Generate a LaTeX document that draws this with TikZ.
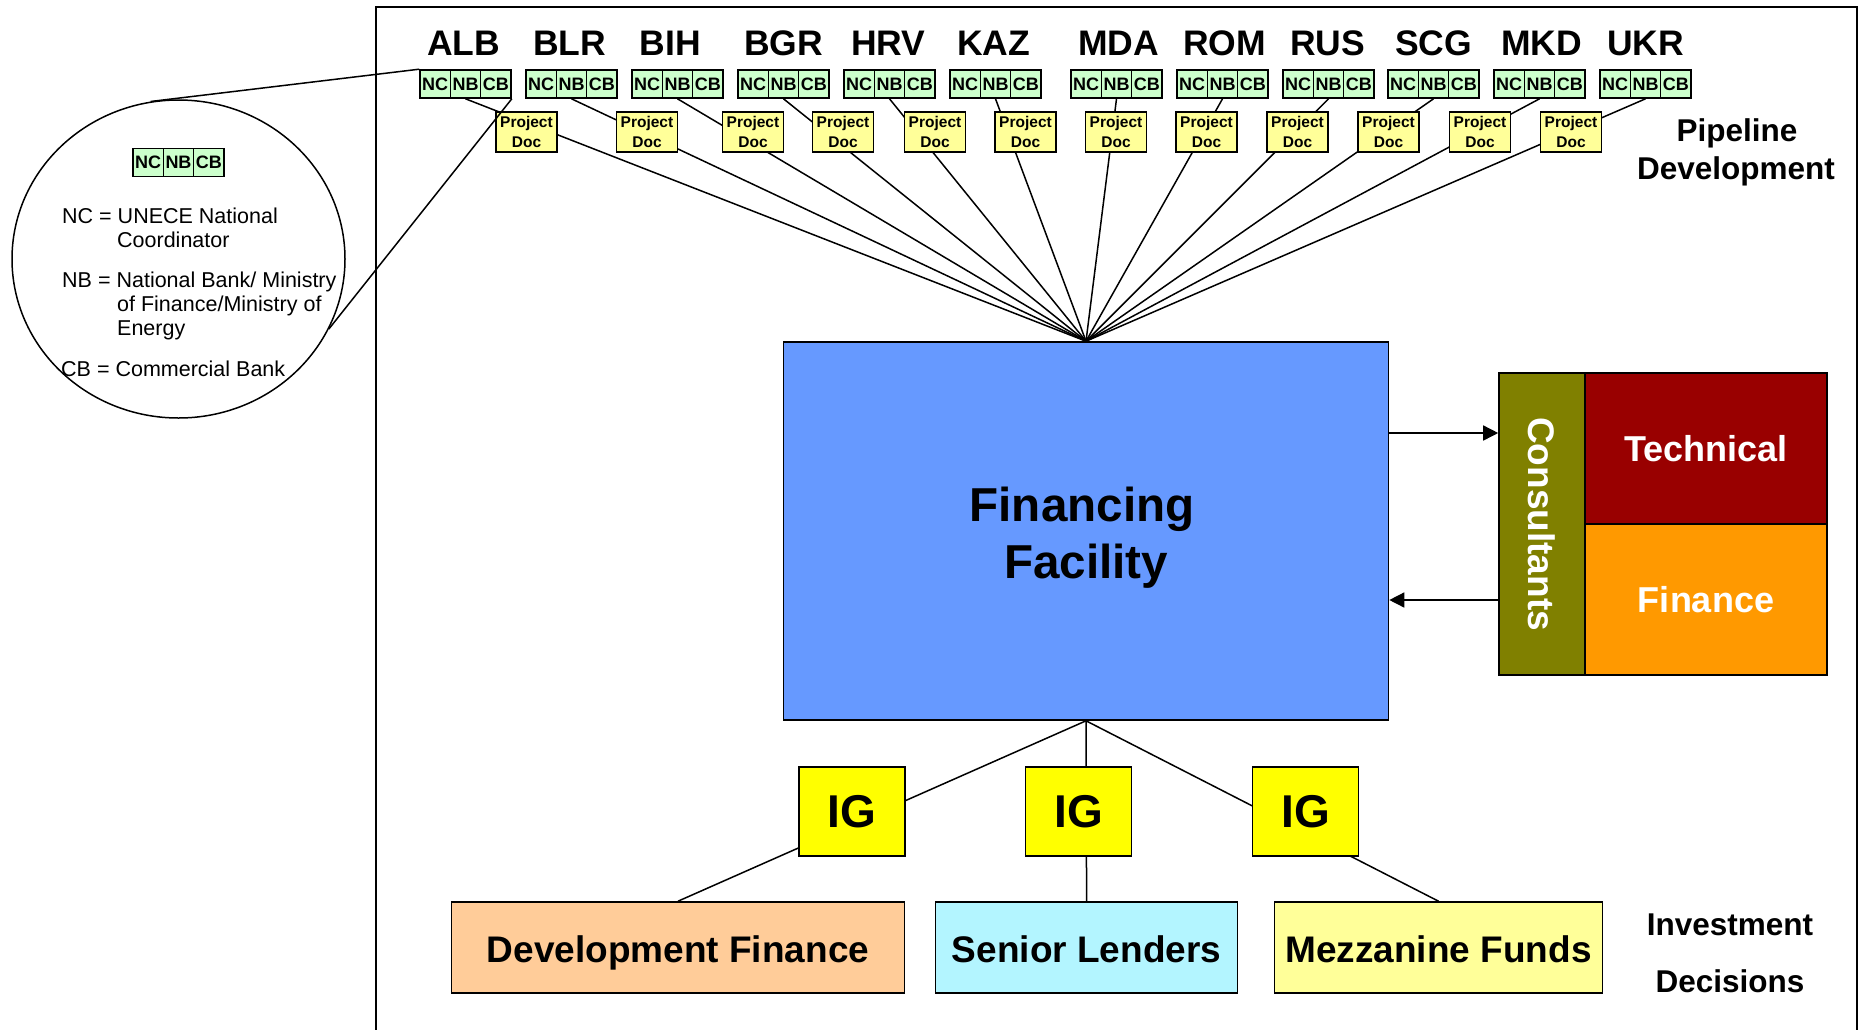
\documentclass[tikz,border=0pt]{standalone}
\usepackage{fontspec}
\setmainfont{Liberation Sans}
\usetikzlibrary{arrows.meta,shapes.geometric}
\definecolor{cellgreen}{HTML}{CCFFCC}
\definecolor{docyellow}{HTML}{FFFF99}
\definecolor{igyellow}{HTML}{FFFF00}
\definecolor{ffblue}{HTML}{6699FF}
\definecolor{olivec}{HTML}{808000}
\definecolor{techred}{HTML}{990000}
\definecolor{finorange}{HTML}{FF9900}
\definecolor{devpeach}{HTML}{FFCC99}
\definecolor{slcyan}{HTML}{B3F5FF}
\definecolor{mezyellow}{HTML}{FFFF99}
\newcommand\myfs[2]{\fontsize{#1}{#2}\selectfont}
\tikzset{
  bx/.style={draw=black, line width=1.6pt, inner sep=0pt},
  cell/.style={bx, fill=cellgreen, minimum width=30.33pt, minimum height=28pt, font=\myfs{18}{20}\bfseries},
  doc/.style={bx, fill=docyellow, minimum width=61pt, minimum height=40pt, align=center, font=\myfs{15.5}{20}\bfseries},
  country/.style={anchor=base, inner sep=0pt, font=\myfs{35.5}{40}\bfseries},
  conn/.style={line width=1.5pt, draw=black},
  bigtext/.style={anchor=base, inner sep=0pt, font=\myfs{31.5}{36}\bfseries},
  igbox/.style={bx, fill=igyellow, minimum width=106pt, minimum height=89pt, font=\myfs{46}{50}\bfseries},
  bottombox/.style={bx, minimum height=91pt, text height=29pt, text depth=0pt, font=\myfs{37}{40}\bfseries},
  consbox/.style={bx, minimum width=242pt, minimum height=151pt, text=white, font=\myfs{36}{40}\bfseries},
  legtext/.style={anchor=base west, inner sep=0pt, font=\myfs{21.5}{24}},
  arr/.style={conn, -{Triangle[length=15pt,width=15pt]}}
}
\begin{document}
\begin{tikzpicture}[x=1pt,y=-1pt]
\useasboundingbox (0,0) rectangle (1864,1029);
\clip (0,0) rectangle (1864,1029);
\fill[white] (0,0) rectangle (1864,1029);
% frame
\draw[line width=2pt] (376,1040) -- (376,7) -- (1857,7) -- (1857,1040);

% countries
\foreach \n/\L/\o in {ALB/420/-2,BLR/526/-2,BIH/632/-7,BGR/738/0,HRV/844/-1,KAZ/950/-2,MDA/1071/2,ROM/1177/2,RUS/1283/-1,SCG/1388/0,MKD/1494/2,UKR/1600/0}{
  \node[country] (\n-lab) at (\L+45.5+\o,55) {\n};
  \node[cell] (\n-nc) at (\L+15.17,84) {NC};
  \node[cell] (\n-nb) at (\L+45.5,84) {NB};
  \node[cell] (\n-cb) at (\L+75.83,84) {CB};
}

% financing facility
\node[bx, fill=ffblue, minimum width=605pt, minimum height=378pt] (FF) at (1086,531) {};
\node[anchor=base, inner sep=0pt, font=\myfs{47.6}{57}\bfseries] (ff1) at (1082,521) {Financing};
\node[anchor=base, inner sep=0pt, font=\myfs{47.6}{57}\bfseries] (ff2) at (1086,578) {Facility};

\foreach \n in {ALB,BLR,BIH,BGR,HRV,KAZ,MDA,ROM,RUS,SCG,MKD,UKR}{
  \draw[conn] (\n-nb.south) -- (FF.north);
}
\foreach \n/\x in {ALB/526.5,BLR/647,BIH/753,BGR/843,HRV/935,KAZ/1025.5,MDA/1116,ROM/1206.5,RUS/1297.5,SCG/1388.5,MKD/1480,UKR/1571}{
  \node[doc] (\n-doc) at (\x,132) {Project\\Doc};
}

% bottom
\node[bottombox, fill=devpeach, minimum width=453pt] (DF) at (678,947.5) {Development Finance};
\node[bottombox, fill=slcyan, minimum width=302pt] (SL) at (1086.6,947.5) {Senior Lenders};
\node[bottombox, fill=mezyellow, minimum width=328pt] (MF) at (1438.5,947.5) {Mezzanine Funds};
\draw[conn] (FF.south) -- (DF.north);
\draw[conn] (FF.south) -- (SL.north);
\draw[conn] (FF.south) -- (MF.north);
\node[igbox] (IG1) at (852,811.5) {IG};
\node[igbox] (IG2) at (1078.5,811.5) {IG};
\node[igbox] (IG3) at (1305.5,811.5) {IG};

% consultants
\node[bx, fill=olivec, minimum width=86pt, minimum height=302pt] (cons) at (1542,524) {};
\node[rotate=-90, inner sep=0pt, text=white, font=\myfs{37}{40}\bfseries] (constext) at (cons.center) {Consultants};
\node[consbox, fill=techred] (tech) at (1706,448.5) {Technical};
\node[consbox, fill=finorange] (fin) at (1706,599.5) {Finance};
\coordinate (a1) at (0,433);
\coordinate (a2) at (0,600);
\draw[arr] (FF.east |- a1) -- (cons.west |- a1);
\draw[arr] (cons.west |- a2) -- (FF.east |- a2);

% legend
\node[draw, ellipse, line width=1.5pt, minimum width=333pt, minimum height=318pt, inner sep=0pt] (legend) at (178.5,259) {};
\node[cell] (lg-nc) at (148.17,162.5) {NC};
\node[cell] (lg-nb) at (178.5,162.5) {NB};
\node[cell] (lg-cb) at (208.83,162.5) {CB};
\node[legtext] (l1) at (62,223) {NC = UNECE National};
\node[legtext] (l2) at (117,247) {Coordinator};
\node[legtext] (l3) at (62,287) {NB = National Bank/ Ministry};
\node[legtext] (l4) at (117,311) {of Finance/Ministry of};
\node[legtext] (l5) at (117,335) {Energy};
\node[legtext] (l6) at (61,376) {CB = Commercial Bank};
\draw[conn] (legend.100) -- (ALB-nc.north west);
\draw[conn] (legend.-25) -- (ALB-cb.south east);

% side labels
\node[bigtext] (pip1) at (1737,141) {Pipeline};
\node[bigtext] (pip2) at (1736,179) {Development};
\node[bigtext] (inv1) at (1730,935) {Investment};
\node[bigtext] (inv2) at (1730,992) {Decisions};
\end{tikzpicture}
\end{document}
